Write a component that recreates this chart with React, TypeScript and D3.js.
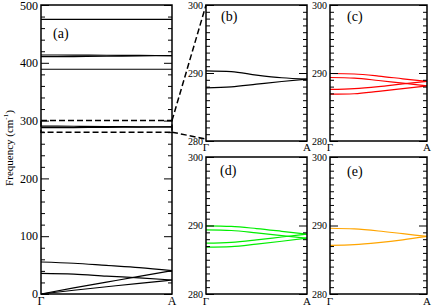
import * as React from 'react';
import * as d3 from 'd3';

// fractional position along the path, Γ (0) -> A (1)
const kPath = [0, 0.25, 0.5, 0.75, 1];

// (a) full spectrum, cm^-1
const bandsFull = [
  [475.3, 475.3, 475.3, 475.3, 475.3],
  [413.5, 413.4, 413.1, 412.8, 412.5],
  [410.6, 410.8, 411.3, 411.9, 412.5],
  [388.8, 388.8, 388.8, 388.8, 388.8],
  [290.3, 290.2, 289.7, 289.3, 289.1],
  [287.8, 287.95, 288.35, 288.75, 289.1],
  [55.4, 53.2, 49.5, 45.8, 40.3],
  [35.8, 34.5, 31.0, 27.8, 24.2],
  [0, 10.5, 20.5, 30.5, 40.3],
  [0, 6.5, 12.5, 18.5, 24.2],
];

// (b) zoom on the 280-300 window
const bandsB = [
  [290.3, 290.2, 289.7, 289.3, 289.1],
  [287.8, 287.95, 288.35, 288.75, 289.1],
];

// (c)
const bandsC = [
  [289.93, 289.85, 289.55, 289.15, 288.76],
  [289.34, 289.25, 288.9, 288.5, 288.11],
  [287.58, 287.7, 288.0, 288.4, 288.76],
  [286.88, 286.95, 287.3, 287.7, 288.11],
];

// (d)
const bandsD = [
  [289.95, 289.87, 289.55, 289.15, 288.73],
  [289.36, 289.27, 288.92, 288.52, 288.15],
  [287.42, 287.55, 287.9, 288.32, 288.73],
  [286.83, 286.92, 287.28, 287.7, 288.15],
];

// (e)
const bandsE = [
  [289.6, 289.5, 289.2, 288.8, 288.4],
  [287.1, 287.2, 287.5, 287.9, 288.4],
];

const fullDomain = [0, 500];
const fullTicks = [0, 100, 200, 300, 400, 500];
const zoomDomain = [280, 300];
const zoomTicks = [280, 290, 300];
const pathLabels = ['Γ', 'A'];

const W = 436;
const H = 307;
const FONT = '"Times New Roman", "Liberation Serif", Times, serif';

const App = () => {
  const nodeRef = React.useRef<SVGSVGElement>(null);

  React.useEffect(() => {
    const svg = d3.select(nodeRef.current);
    svg.selectAll('*').remove();

    const panels = [
      { id: 'a', x: 41, y: 5, w: 131, h: 289, domain: fullDomain, ticks: fullTicks, minor: 20, data: bandsFull, color: '#000', tickFont: 12, xFont: 12, lab: [12, 33] },
      { id: 'b', x: 206, y: 5, w: 101, h: 136, domain: zoomDomain, ticks: zoomTicks, minor: 1, data: bandsB, color: '#000', tickFont: 10, xFont: 11, lab: [15, 16] },
      { id: 'c', x: 330, y: 5, w: 97, h: 136, domain: zoomDomain, ticks: zoomTicks, minor: 1, data: bandsC, color: '#ff0000', tickFont: 10, xFont: 11, lab: [17, 16] },
      { id: 'd', x: 206, y: 157, w: 101, h: 137, domain: zoomDomain, ticks: zoomTicks, minor: 1, data: bandsD, color: '#00ee00', tickFont: 10, xFont: 11, lab: [14, 18] },
      { id: 'e', x: 330, y: 157, w: 97, h: 137, domain: zoomDomain, ticks: zoomTicks, minor: 1, data: bandsE, color: '#ffa500', tickFont: 10, xFont: 11, lab: [17, 19] },
    ];

    const scales: any = {};

    panels.forEach(p => {
      const x = d3.scaleLinear().domain([0, 1]).range([0, p.w]);
      const y = d3.scaleLinear().domain(p.domain).range([p.h, 0]);
      scales[p.id] = { x, y, p };

      const g = svg.append('g').attr('transform', 'translate(' + p.x + ',' + p.y + ')');

      // bands
      const line = d3
        .line<number>()
        .x((d, i) => x(kPath[i]))
        .y(d => y(d))
        .curve(d3.curveMonotoneX);
      g.selectAll('.band')
        .data(p.data)
        .enter()
        .append('path')
        .attr('class', 'band')
        .attr('d', d => line(d))
        .attr('fill', 'none')
        .attr('stroke', p.color)
        .attr('stroke-width', 1.2);

      // minor + major ticks, inward on both sides
      const minorVals = d3.range(p.domain[0], p.domain[1] + p.minor / 2, p.minor).filter(v => !p.ticks.includes(v));
      const ax = (side: 'left' | 'right', vals: number[], len: number) => {
        const a = side === 'left' ? d3.axisLeft(y) : d3.axisRight(y);
        const ag = g
          .append('g')
          .attr('transform', side === 'left' ? 'translate(0,0)' : 'translate(' + p.w + ',0)')
          .call(a.tickValues(vals).tickSize(-len).tickFormat(() => ''));
        ag.select('.domain').remove();
        ag.selectAll('line').attr('stroke', '#000').attr('stroke-width', 1);
      };
      ax('left', minorVals, 4);
      ax('right', minorVals, 4);
      ax('left', p.ticks, 8);
      ax('right', p.ticks, 8);

      // tick labels
      g.selectAll('.ylab')
        .data(p.ticks)
        .enter()
        .append('text')
        .attr('x', -3)
        .attr('y', d => Math.max(y(d), p.id === 'a' ? 1 : 0))
        .attr('dy', '0.35em')
        .attr('text-anchor', 'end')
        .style('font-family', FONT)
        .style('font-size', p.tickFont + 'px')
        .attr('fill', '#000')
        .text(d => d);

      // frame
      g.append('rect')
        .attr('width', p.w)
        .attr('height', p.h)
        .attr('fill', 'none')
        .attr('stroke', '#000')
        .attr('stroke-width', 1.5);

      // Γ / A
      g.selectAll('.xlab')
        .data(pathLabels)
        .enter()
        .append('text')
        .attr('x', (d, i) => x(i))
        .attr('y', p.h + (p.id === 'b' || p.id === 'c' ? 10 : 11))
        .attr('text-anchor', 'middle')
        .style('font-family', FONT)
        .style('font-size', p.xFont + 'px')
        .text(d => d);

      // panel letter
      g.append('text')
        .attr('x', p.lab[0])
        .attr('y', p.lab[1])
        .style('font-family', FONT)
        .style('font-size', '14px')
        .text('(' + p.id + ')');
    });

    // zoom window in (a) and connectors to (b)
    const a = scales.a;
    const b = scales.b;
    const yTop = a.p.y + a.y(zoomDomain[1]);
    const yBot = a.p.y + a.y(zoomDomain[0]);
    const dash = svg.append('g').attr('fill', 'none').attr('stroke', '#000').attr('stroke-width', 1.5).attr('stroke-dasharray', '6,3');
    dash.append('rect')
      .attr('x', a.p.x)
      .attr('y', yTop)
      .attr('width', a.p.w)
      .attr('height', yBot - yTop);
    dash.append('line')
      .attr('x1', a.p.x + a.p.w)
      .attr('y1', yTop)
      .attr('x2', b.p.x)
      .attr('y2', b.p.y + b.y(zoomDomain[1]));
    dash.append('line')
      .attr('x1', a.p.x + a.p.w)
      .attr('y1', yBot)
      .attr('x2', b.p.x)
      .attr('y2', b.p.y + b.y(zoomDomain[0]) - 2);

    // y title
    const t = svg
      .append('text')
      .attr('transform', 'translate(13,148) rotate(-90)')
      .attr('text-anchor', 'middle')
      .style('font-family', FONT)
      .style('font-size', '11px');
    t.append('tspan').text('Frequency (cm');
    t.append('tspan').attr('dy', -5).style('font-size', '7px').text('-1');
    t.append('tspan').attr('dy', 5).text(')');
  }, []);

  return (
    <svg
      ref={nodeRef}
      width={W}
      height={H}
      style={{ position: 'absolute', left: 0, top: 0, background: '#fff' }}
    />
  );
};

export default App;
